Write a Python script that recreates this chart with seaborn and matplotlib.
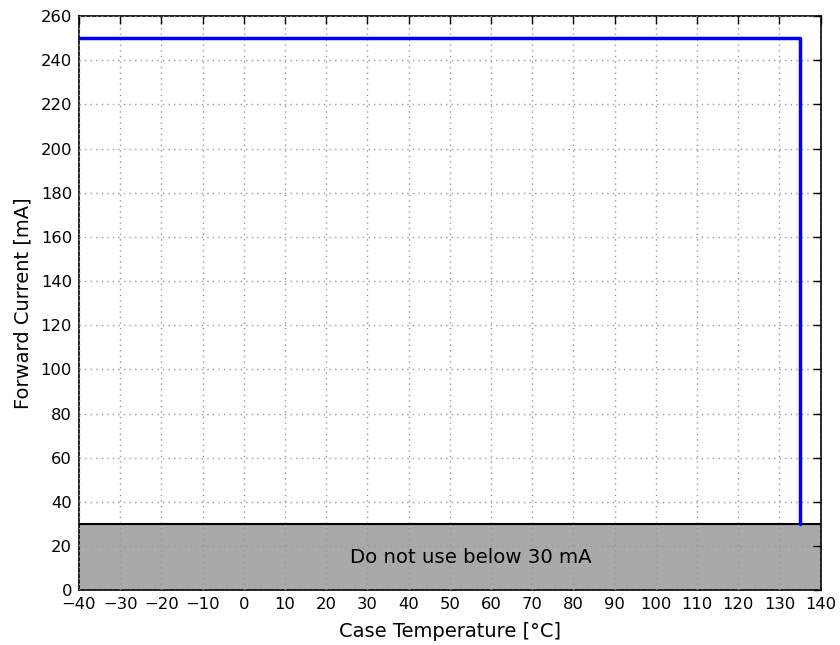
import matplotlib
matplotlib.use("Agg")
import matplotlib.pyplot as plt
import seaborn as sns
import pandas as pd

# Derating curve: max forward current vs case temperature
temp_c = [-40, 135, 135]
current_ma = [250, 250, 30]
min_current = 30
x_ticks = list(range(-40, 141, 10))
y_ticks = list(range(0, 261, 20))

sns.set_style("white")
plt.rcParams['font.family'] = ['DejaVu Sans']
plt.rcParams['text.color'] = 'black'
plt.rcParams['axes.labelcolor'] = 'black'
plt.rcParams['xtick.color'] = 'black'
plt.rcParams['ytick.color'] = 'black'

df = pd.DataFrame({'temp': temp_c, 'current': current_ma})

fig = plt.figure(figsize=(8.4, 6.45), dpi=100)
ax = fig.add_axes([0.094, 0.085, 0.883, 0.89])

# forbidden region below min current
ax.axhspan(0, min_current, facecolor='#a9a9a9', edgecolor='none', zorder=1)
ax.axhline(min_current, color='black', lw=1.5, zorder=3)
ax.text(55, 15, "Do not use below 30 mA", ha='center', va='center', fontsize=14.2, color='black', zorder=4)

sns.lineplot(data=df, x='temp', y='current', sort=False, estimator=None,
             color='blue', lw=2.5, ax=ax, zorder=3)

ax.set_xlim(-40, 140)
ax.set_ylim(0, 260)
ax.set_xticks(x_ticks)
ax.set_yticks(y_ticks)
ax.grid(True, linestyle=(0, (1, 3)), color='#999999', lw=1, zorder=2)
ax.set_axisbelow(False)
ax.tick_params(direction='in', top=True, right=True, length=6, width=1, labelsize=11.8, pad=5)
for s in ax.spines.values():
    s.set_color('black')
    s.set_linewidth(1.2)

ax.set_xlabel("Case Temperature [°C]", fontsize=14, labelpad=7)
ax.set_ylabel("Forward Current [mA]", fontsize=14, labelpad=6)

fig.savefig("out.png", dpi=100)
